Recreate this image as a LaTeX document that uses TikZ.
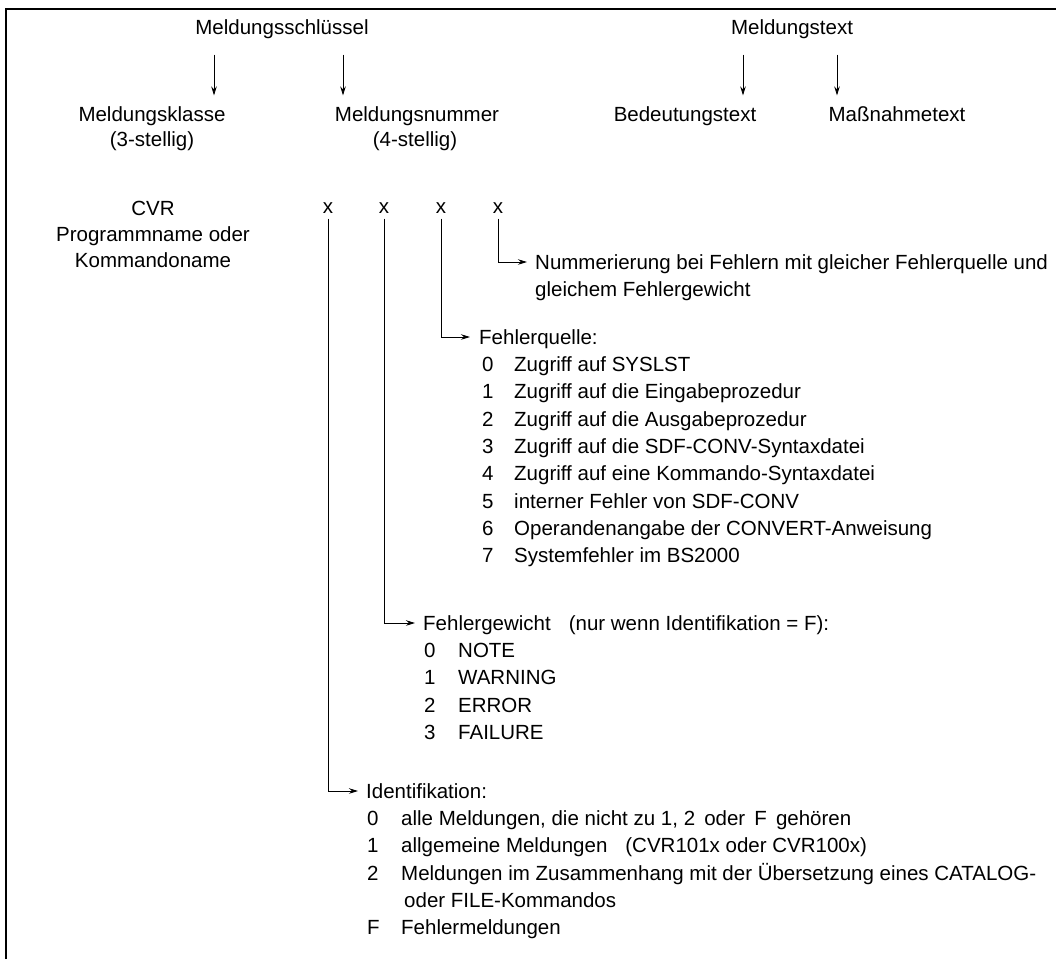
\documentclass[tikz,border=0pt]{standalone}
\usepackage{fontspec}
\setmainfont{Liberation Sans}
\usetikzlibrary{arrows.meta}
\begin{document}
\begin{tikzpicture}[x=1pt,y=-1pt,
  every node/.style={inner sep=0pt, text height=14.7pt, text depth=0pt, font=\fontsize{20.5}{24}\selectfont},
  arr/.style={-{Stealth[length=9pt,width=5.5pt]}, line width=0.9pt},
  lft/.style={anchor=west},
  xs/.style={anchor=south},
]
\useasboundingbox (0,0) rectangle (1056,959);
\draw[line width=2.6pt] (6,959) -- (6,9) -- (1060,9);
% top level
\node (ms) at (282,27) {Meldungsschlüssel};
\node (mtx) at (792,27) {Meldungstext};
\node (mk) at (152,114) {Meldungsklasse};
\node (mk2) at (152,139) {(3-stellig)};
\node (mn) at (417,114) {Meldungsnummer};
\node (mn2) at (415,139) {(4-stellig)};
\node (bt) at (685,114) {Bedeutungstext};
\node (mt) at (897,114) {Maßnahmetext};
\coordinate (c1) at (214,0);
\coordinate (c2) at (343,0);
\coordinate (c3) at (743,0);
\coordinate (c4) at (837,0);
\draw[arr, shorten <=20pt, shorten >=11pt] (ms.south -| c1) -- (mk.north -| c1);
\draw[arr, shorten <=20pt, shorten >=11pt] (ms.south -| c2) -- (mn.north -| c2);
\draw[arr, shorten <=20pt, shorten >=11pt] (mtx.south -| c3) -- (bt.north -| c3);
\draw[arr, shorten <=20pt, shorten >=11pt] (mtx.south -| c4) -- (mt.north -| c4);
% key
\node (cvr) at (153,208) {CVR};
\node (pn) at (153,234) {Programmname oder};
\node (kn) at (153,260) {Kommandoname};
\node[xs] (x1) at (328,213.5) {x};
\node[xs] (x2) at (384,213.5) {x};
\node[xs] (x3) at (441,213.5) {x};
\node[xs] (x4) at (498,213.5) {x};
% Nummerierung
\node[lft] (nr) at (535,262) {Nummerierung bei Fehlern mit gleicher Fehlerquelle und};
\node[lft] (nr2) at (535,289) {gleichem Fehlergewicht};
\draw[arr] ([yshift=-5pt]x4.south) |- ([xshift=-8pt]nr.west);
% Fehlerquelle
\node[lft] (fq) at (479,337) {Fehlerquelle:};
\draw[arr] ([yshift=-5pt]x3.south) |- ([xshift=-9pt]fq.west);
\node[lft] (fqn0) at (482,364.3) {0}; \node[lft] (fqt0) at (514,364.3) {Zugriff auf SYSLST};
\node[lft] (fqn1) at (482,391.6) {1}; \node[lft] (fqt1) at (514,391.6) {Zugriff auf die Eingabeprozedur};
\node[lft] (fqn2) at (482,418.9) {2}; \node[lft] (fqt2) at (514,418.9) {Zugriff auf die Ausgabeprozedur};
\node[lft] (fqn3) at (482,446.2) {3}; \node[lft] (fqt3) at (514,446.2) {Zugriff auf die SDF-CONV-Syntaxdatei};
\node[lft] (fqn4) at (482,473.5) {4}; \node[lft] (fqt4) at (514,473.5) {Zugriff auf eine Kommando-Syntaxdatei};
\node[lft] (fqn5) at (482,500.8) {5}; \node[lft] (fqt5) at (514,500.8) {interner Fehler von SDF-CONV};
\node[lft] (fqn6) at (482,528.1) {6}; \node[lft] (fqt6) at (514,528.1) {Operandenangabe der CONVERT-Anweisung};
\node[lft] (fqn7) at (482,555.4) {7}; \node[lft] (fqt7) at (514,555.4) {Systemfehler im BS2000};
% Fehlergewicht
\node[lft] (fg) at (423,623) {Fehlergewicht\hspace{0.6em} (nur wenn Identifikation = F):};
\draw[arr] ([yshift=-5pt]x2.south) |- ([xshift=-8pt]fg.west);
\node[lft] (fgn0) at (424,650.3) {0}; \node[lft] (fgt0) at (458,650.3) {NOTE};
\node[lft] (fgn1) at (424,677.6) {1}; \node[lft] (fgt1) at (458,677.6) {WARNING};
\node[lft] (fgn2) at (424,704.9) {2}; \node[lft] (fgt2) at (458,704.9) {ERROR};
\node[lft] (fgn3) at (424,732.2) {3}; \node[lft] (fgt3) at (458,732.2) {FAILURE};
% Identifikation
\node[lft] (id) at (366,791) {Identifikation:};
\draw[arr] ([yshift=-5pt]x1.south) |- ([xshift=-8pt]id.west);
\node[lft] (idn0) at (367,818.3) {0}; \node[lft] (idt0) at (401,818.3) {alle Meldungen, die nicht zu 1, 2\, oder\, F\, gehören};
\node[lft] (idn1) at (367,845.6) {1}; \node[lft] (idt1) at (401,845.6) {allgemeine Meldungen\hspace{0.6em} (CVR101x oder CVR100x)};
\node[lft] (idn2) at (367,872.9) {2}; \node[lft] (idt2) at (401,872.9) {Meldungen im Zusammenhang mit der Übersetzung eines CATALOG-};
\node[lft] (idt2b) at (404,900.2) {oder FILE-Kommandos};
\node[lft] (idn3) at (367,927.5) {F}; \node[lft] (idt3) at (401,927.5) {Fehlermeldungen};
\end{tikzpicture}
\end{document}
